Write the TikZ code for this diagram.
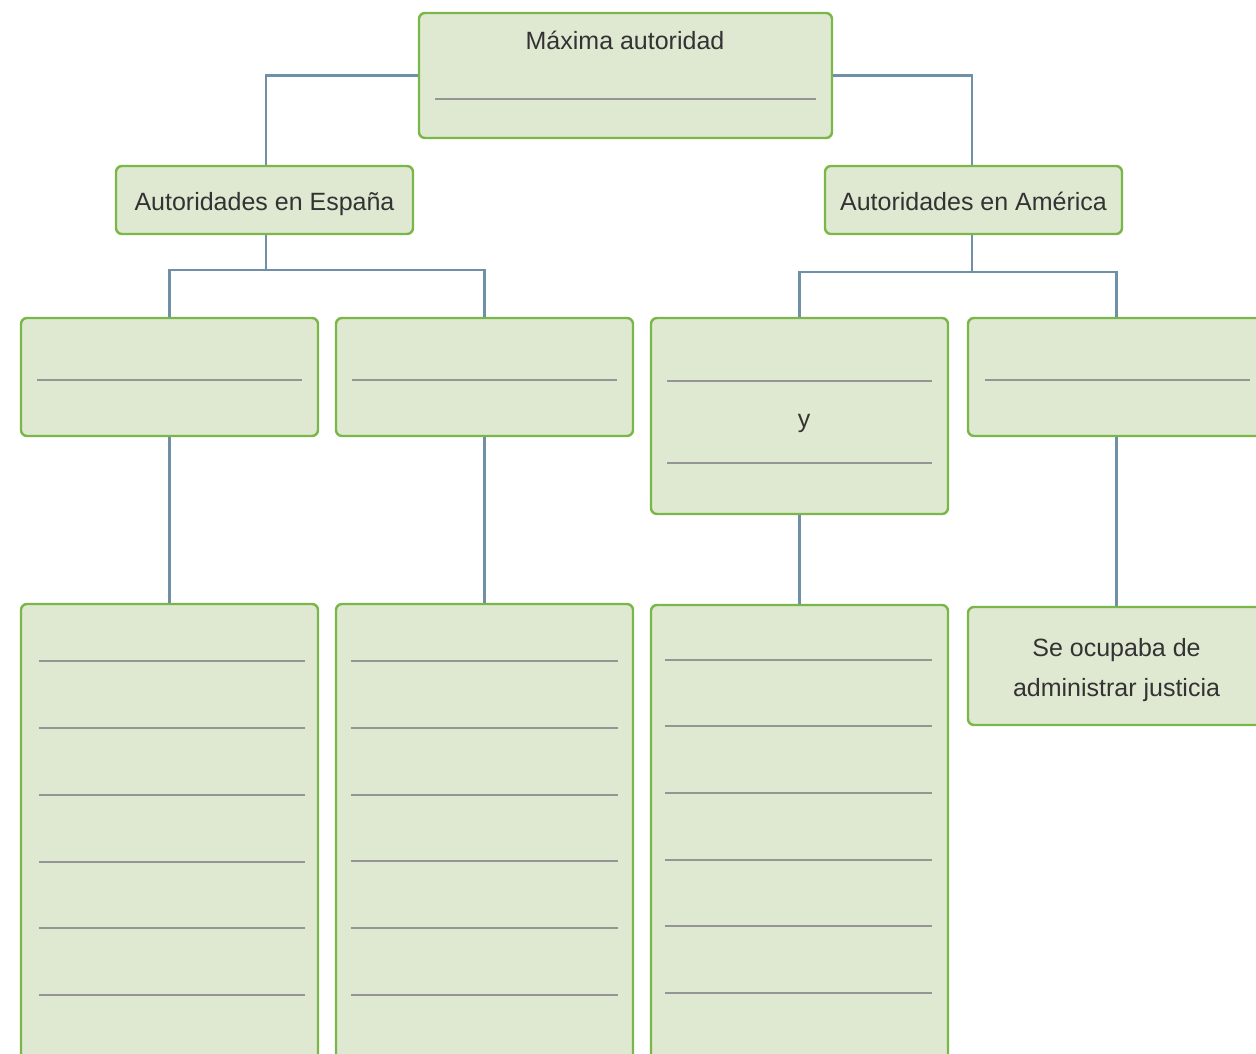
\documentclass[tikz,border=0pt]{standalone}
\usepackage{fontspec}
\setmainfont{Liberation Sans}
\definecolor{boxfill}{HTML}{DFE9D2}
\definecolor{boxdraw}{HTML}{7AB648}
\definecolor{conn}{HTML}{7090A8}
\definecolor{rule}{HTML}{959595}
\definecolor{txt}{HTML}{333333}
\begin{document}
\begin{tikzpicture}[x=1pt,y=-1pt,
  box/.style={draw=boxdraw,fill=boxfill,line width=2.4pt,rounded corners=6pt,inner sep=0pt,text=txt,font=\fontsize{25}{40}\selectfont,align=center},
  link/.style={draw=conn,line width=2.4pt},
  wline/.style={draw=rule,line width=1.5pt}]
\useasboundingbox (0,0) rectangle (1256,1053);
\clip (0,0) rectangle (1256,1053);
\node[box,minimum width=413,minimum height=125] (top) at (625.5,75.5) {};
\node[box,minimum width=297,minimum height=68,text height=22,text depth=2] (esp) at (264.5,200) {Autoridades en España};
\node[box,minimum width=297,minimum height=68,text height=22,text depth=2] (ame) at (973.5,200) {Autoridades en América};
\node[box,minimum width=297,minimum height=118] (a) at (169.5,377) {};
\node[box,minimum width=297,minimum height=118] (b) at (484.5,377) {};
\node[box,minimum width=297,minimum height=196] (c) at (799.5,416) {};
\node[box,minimum width=297,minimum height=118] (d) at (1116.5,377) {};
\node[box,minimum width=297,minimum height=460] (a2) at (169.5,834) {};
\node[box,minimum width=297,minimum height=460] (b2) at (484.5,834) {};
\node[box,minimum width=297,minimum height=460] (c2) at (799.5,835) {};
\node[box,minimum width=297,minimum height=118] (d2) at (1116.5,666) {};
\node[text=txt,font=\fontsize{25}{40}\selectfont,align=center] (d2t) at (1116.5,670) {Se ocupaba de\\administrar justicia};
% connectors
\coordinate (jl) at (266,270);
\coordinate (jr) at (972,272);
\draw[link] (top.west) -| (jl|-esp.north);
\draw[link] (top.east) -| (jr|-ame.north);
\draw[link] (jl|-esp.south) -- (jl);
\draw[link] (a.north) |- (jl) -| (b.north);
\draw[link] (jr|-ame.south) -- (jr);
\draw[link] (c.north) |- (jr) -| (d.north);
\draw[link] (a.south) -- (a2.north);
\draw[link] (b.south) -- (b2.north);
\draw[link] (c.south) -- (c2.north);
\draw[link] (d.south) -- (d2.north);
% texts
\node[text=txt,font=\fontsize{25}{30}\selectfont,anchor=base] (tt) at (625,49) {Máxima autoridad};
\node[text=txt,font=\fontsize{25}{30}\selectfont,anchor=base] (yy) at (804,427) {y};
% write-in lines
\draw[wline] (435,99) -- (816,99);
\draw[wline] (37,380) -- (302,380);
\draw[wline] (352,380) -- (617,380);
\draw[wline] (667,381) -- (932,381);
\draw[wline] (667,463) -- (932,463);
\draw[wline] (985,380) -- (1250,380);
\foreach \y in {661,728,795,862,928,995} {\draw[wline] (39,\y) -- (305,\y);}
\foreach \y in {661,728,795,861,928,995} {\draw[wline] (351,\y) -- (618,\y);}
\foreach \y in {660,726,793,860,926,993} {\draw[wline] (665,\y) -- (932,\y);}
\end{tikzpicture}
\end{document}
